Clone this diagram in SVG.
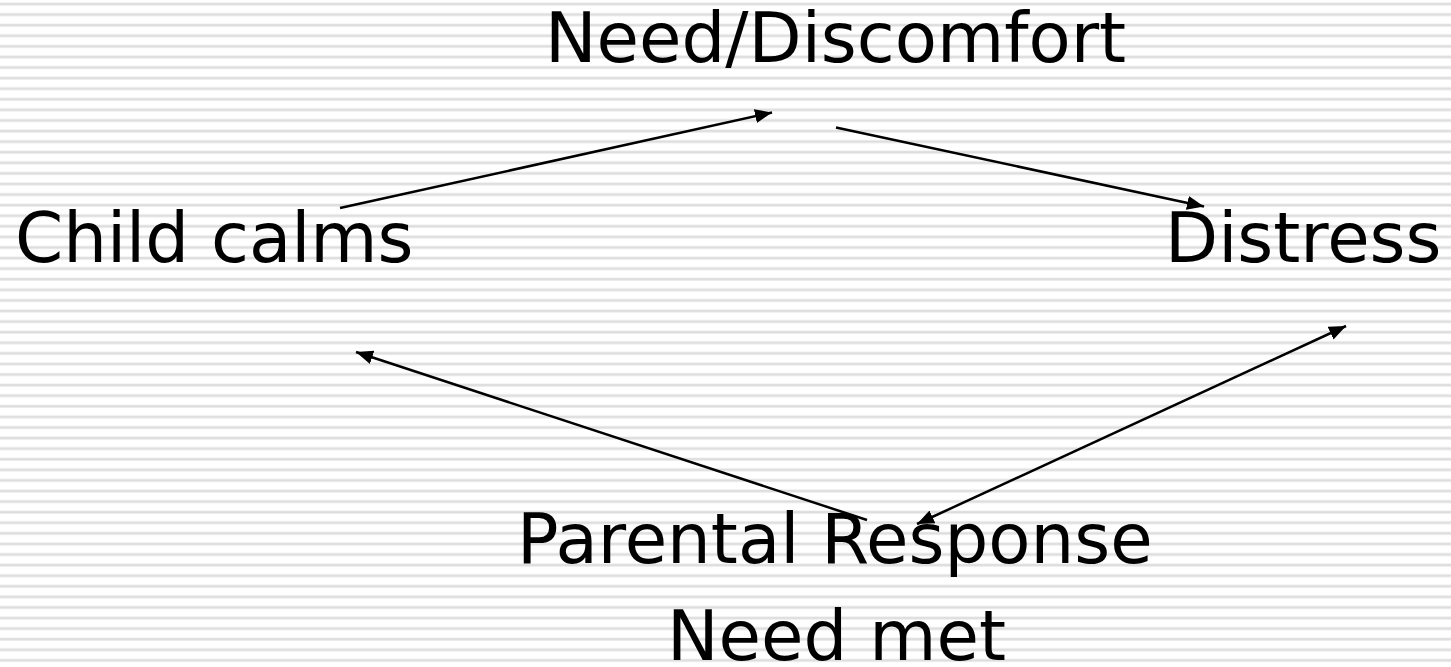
<svg xmlns="http://www.w3.org/2000/svg" width="1451" height="667" viewBox="0 0 1451 667">
  <defs>
    <style>
      .lbl { font-family: "DejaVu Sans", Verdana, sans-serif; font-size: 69px; fill: #000; }
      .conn { stroke: #000; stroke-width: 2.5; fill: none; }
    </style>
    <pattern id="bg" patternUnits="userSpaceOnUse" x="0" y="0" width="1451" height="10.587">
      <rect x="0" y="2.3" width="1451" height="3.4" fill="#eeeeee"/>
      <rect x="0" y="3" width="1451" height="2" fill="#dedede"/>
    </pattern>
    <marker id="ah" markerUnits="userSpaceOnUse" markerWidth="20" markerHeight="16" refX="17" refY="7" orient="auto-start-reverse" viewBox="0 0 20 16">
      <path d="M0,0 L17,7 L0,14 Z" fill="#000"/>
    </marker>
  </defs>
  <rect width="1451" height="667" fill="#ffffff"/>
  <rect width="1451" height="667" fill="url(#bg)"/>

  <g id="node-need">
    <text class="lbl" x="545" y="62">Need/Discomfort</text>
  </g>
  <g id="node-child">
    <text class="lbl" x="15" y="262">Child calms</text>
  </g>
  <g id="node-distress">
    <text class="lbl" x="1165" y="262">Distress</text>
  </g>
  <g id="node-parental">
    <text class="lbl" x="517" y="563">Parental Response</text>
  </g>
  <g id="node-needmet">
    <text class="lbl" x="667" y="660">Need met</text>
  </g>

  <g id="connectors">
    <line class="conn" x1="340" y1="208" x2="772" y2="112.5" marker-end="url(#ah)"/>
    <line class="conn" x1="836" y1="127.5" x2="1204" y2="206.5" marker-end="url(#ah)"/>
    <line class="conn" x1="917" y1="524" x2="1346" y2="326" marker-start="url(#ah)" marker-end="url(#ah)"/>
    <line class="conn" x1="867" y1="520" x2="356" y2="352" marker-end="url(#ah)"/>
  </g>
</svg>
